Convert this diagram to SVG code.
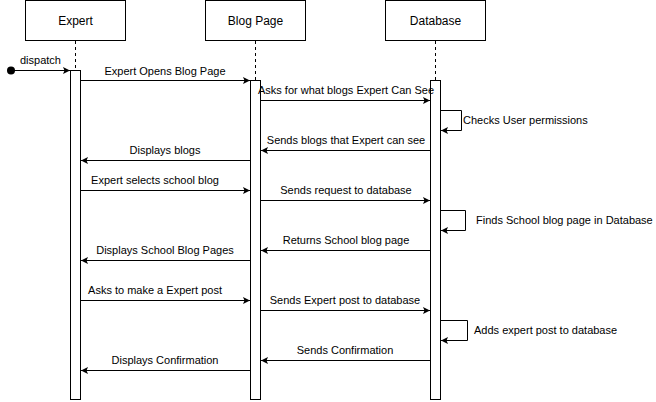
<svg xmlns="http://www.w3.org/2000/svg" width="656" height="402" viewBox="0 0 656 402">
<defs>
<style>
.box{fill:#fff;stroke:#000;stroke-width:1}
.life{stroke:#000;stroke-width:1;stroke-dasharray:3,3;fill:none}
.msg{stroke:#000;stroke-width:1;fill:none;marker-end:url(#arr)}
.hdr{font-family:"Liberation Sans",Arial,sans-serif;font-size:12px;fill:#000;text-anchor:middle}
.lbl{font-family:"Liberation Sans",Arial,sans-serif;font-size:11px;fill:#000}
.c{text-anchor:middle}
</style>
<marker id="arr" markerUnits="userSpaceOnUse" markerWidth="8" markerHeight="8" refX="7" refY="3.5" orient="auto">
<path d="M0,0 L7,3.5 L0,7 L1.5,3.5 z" fill="#000"/>
</marker>
</defs>
<rect width="656" height="402" fill="#fff"/>
<g id="expert">
<rect class="box" x="25.5" y="0.5" width="100" height="40"/>
<text class="hdr" x="75.5" y="24.5">Expert</text>
<line class="life" x1="75.5" y1="41" x2="75.5" y2="70"/>
<rect class="box" x="70.5" y="70.5" width="10" height="329"/>
</g>
<g id="blogpage">
<rect class="box" x="205.5" y="0.5" width="100" height="40"/>
<text class="hdr" x="255.5" y="24.5">Blog Page</text>
<line class="life" x1="255.5" y1="41" x2="255.5" y2="80"/>
<rect class="box" x="250.5" y="80.5" width="10" height="319"/>
</g>
<g id="database">
<rect class="box" x="385.5" y="0.5" width="100" height="40"/>
<text class="hdr" x="435.5" y="24.5">Database</text>
<line class="life" x1="435.5" y1="41" x2="435.5" y2="80"/>
<rect class="box" x="430.5" y="80.5" width="10" height="319"/>
</g>
<g id="connectors">
<circle cx="11" cy="70.5" r="4" fill="#000"/>
<path class="msg" d="M11,70.5 H70"/>
<text class="lbl" x="20" y="64">dispatch</text>

<path class="msg" d="M81,80.5 H250"/>
<text class="lbl c" x="165" y="75">Expert Opens Blog Page</text>

<path class="msg" d="M261,100.5 H430"/>
<text class="lbl c" x="346" y="94">Asks for what blogs Expert Can See</text>

<path class="msg" d="M441,110.5 H461.5 V130.5 H441"/>
<text class="lbl" x="463" y="124">Checks User permissions</text>

<path class="msg" d="M430,150.5 H261"/>
<text class="lbl c" x="346" y="144">Sends blogs that Expert can see</text>

<path class="msg" d="M250,160.5 H81"/>
<text class="lbl c" x="165" y="154">Displays blogs</text>

<path class="msg" d="M81,190.5 H250"/>
<text class="lbl c" x="155" y="184">Expert selects school blog</text>

<path class="msg" d="M261,200.5 H430"/>
<text class="lbl c" x="346" y="194">Sends request to database</text>

<path class="msg" d="M441,210.5 H465.5 V230.5 H441"/>
<text class="lbl" x="476" y="224">Finds School blog page in Database</text>

<path class="msg" d="M430,250.5 H261"/>
<text class="lbl c" x="346" y="244">Returns School blog page</text>

<path class="msg" d="M250,260.5 H81"/>
<text class="lbl c" x="165" y="254">Displays School Blog Pages</text>

<path class="msg" d="M81,300.5 H250"/>
<text class="lbl c" x="155" y="294">Asks to make a Expert post</text>

<path class="msg" d="M261,310.5 H430"/>
<text class="lbl c" x="345" y="304">Sends Expert post to database</text>

<path class="msg" d="M441,320.5 H467.5 V340.5 H441"/>
<text class="lbl" x="474" y="334">Adds expert post to database</text>

<path class="msg" d="M430,360.5 H261"/>
<text class="lbl c" x="345" y="354">Sends Confirmation</text>

<path class="msg" d="M250,370.5 H81"/>
<text class="lbl c" x="165" y="364">Displays Confirmation</text>
</g>
</svg>
